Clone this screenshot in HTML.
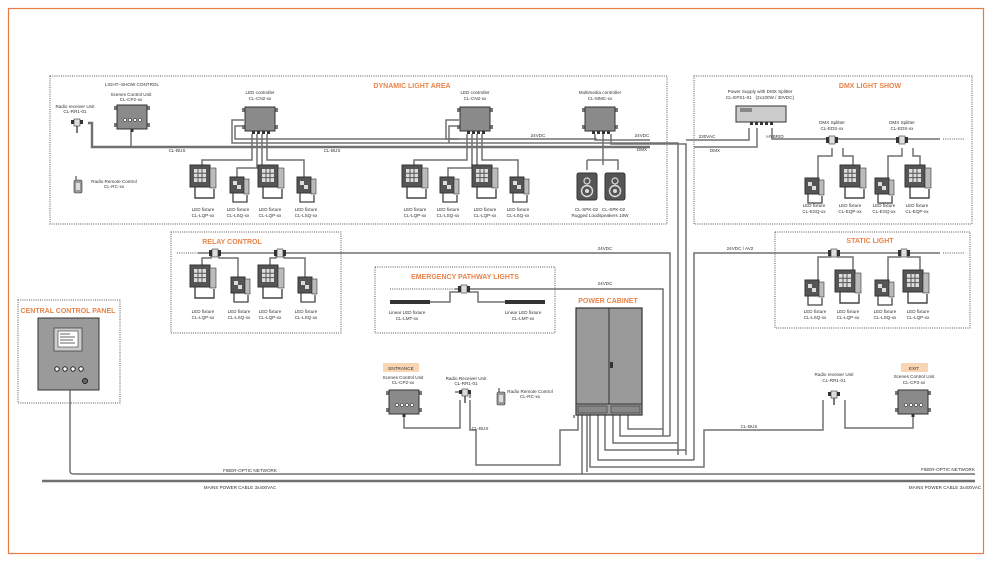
<!DOCTYPE html>
<html><head><meta charset="utf-8"><style>
html,body{margin:0;padding:0;background:#fff}
svg{display:block}
text{font-family:"Liberation Sans",sans-serif;fill:#333;font-size:4.6px}
.t{fill:#e8844a;font-weight:bold;font-size:7px}
.b{fill:none;stroke:#555;stroke-width:1;stroke-dasharray:1 1.2}
.w{fill:none;stroke:#707070;stroke-width:1.5}
.w2{fill:none;stroke:#707070;stroke-width:2.4}
</style></head><body>
<svg width="998" height="568" viewBox="0 0 998 568" xmlns="http://www.w3.org/2000/svg">
<defs>
<g id="fl">
 <path d="M5 22V33H24V24" fill="none" stroke="#444" stroke-width="1.4"/>
 <rect x="0" y="0" width="20" height="22" fill="#555" stroke="#333"/>
 <rect x="20" y="3" width="6" height="20" fill="#bbb" stroke="#333" stroke-width=".6"/>
 <rect x="4" y="4" width="12" height="13" fill="#ddd"/>
 <path d="M4 8.3H16M4 12.6H16M8 4V17M12 4V17" stroke="#555" stroke-width="1"/>
</g>
<g id="fs">
 <path d="M3 16V25H17V18" fill="none" stroke="#444" stroke-width="1.3"/>
 <rect x="0" y="0" width="14" height="16" fill="#555" stroke="#333"/>
 <rect x="14" y="2" width="5" height="15" fill="#bbb" stroke="#333" stroke-width=".6"/>
 <rect x="3" y="4" width="4" height="4" fill="#ddd"/><rect x="7" y="8" width="4" height="4" fill="#ddd"/>
</g>
<g id="ct">
 <rect x="-3" y="1" width="3" height="4" fill="#777"/><rect x="30" y="1" width="3" height="4" fill="#777"/>
 <rect x="-3" y="18" width="3" height="4" fill="#777"/><rect x="30" y="18" width="3" height="4" fill="#777"/>
 <rect x="0" y="0" width="30" height="24" fill="#8a8a8a" stroke="#333"/>
 <rect x="7" y="24" width="3" height="3" fill="#333"/><rect x="12" y="24" width="3" height="3" fill="#333"/><rect x="17" y="24" width="3" height="3" fill="#333"/><rect x="22" y="24" width="3" height="3" fill="#333"/>
</g>
<g id="sc">
 <rect x="-3" y="1" width="3" height="4" fill="#777"/><rect x="30" y="1" width="3" height="4" fill="#777"/>
 <rect x="-3" y="18" width="3" height="4" fill="#777"/><rect x="30" y="18" width="3" height="4" fill="#777"/>
 <rect x="0" y="0" width="30" height="24" fill="#8a8a8a" stroke="#333"/>
 <circle cx="8" cy="15" r="1.5" fill="#fff" stroke="#222" stroke-width=".5"/><circle cx="13" cy="15" r="1.5" fill="#fff" stroke="#222" stroke-width=".5"/><circle cx="18" cy="15" r="1.5" fill="#fff" stroke="#222" stroke-width=".5"/><circle cx="23" cy="15" r="1.5" fill="#fff" stroke="#222" stroke-width=".5"/>
 <rect x="13.5" y="24" width="3" height="3" fill="#333"/>
</g>
<g id="sp">
 <rect x="-6" y="-3" width="3" height="6" fill="#333"/><rect x="3" y="-3" width="3" height="6" fill="#333"/>
 <rect x="-3" y="-4" width="6" height="8" fill="#ddd" stroke="#333" stroke-width=".6"/>
</g>
<g id="rr">
 <rect x="-6" y="-2" width="3" height="4" fill="#333"/><rect x="3" y="-2" width="3" height="4" fill="#333"/>
 <rect x="-3" y="-3" width="6" height="7" fill="#ddd" stroke="#333" stroke-width=".6"/>
 <path d="M0 4V11" stroke="#333" stroke-width="1.3"/>
</g>
<g id="rc">
 <path d="M2 0V4" stroke="#333" stroke-width="1"/>
 <rect x="0" y="4" width="8" height="13" rx="1.5" fill="#999" stroke="#333" stroke-width=".6"/>
 <rect x="2" y="7" width="4" height="7" fill="#ddd"/>
</g>
<g id="spk">
 <rect x="0" y="0" width="20" height="27" rx="2" fill="#555" stroke="#333"/>
 <circle cx="10" cy="8" r="3" fill="none" stroke="#ddd" stroke-width="1.2"/>
 <circle cx="10" cy="18" r="5.5" fill="none" stroke="#ddd" stroke-width="1.4"/><circle cx="10" cy="18" r="2" fill="#ddd"/>
</g>
</defs>

<rect x="8.5" y="8.5" width="975" height="545" fill="none" stroke="#e87a45" stroke-width="1.2"/>

<rect class="b" x="50" y="76" width="617" height="148"/>
<rect class="b" x="694" y="76" width="278" height="148"/>
<rect class="b" x="171" y="232" width="170" height="101"/>
<rect class="b" x="375" y="267" width="180" height="66"/>
<rect class="b" x="775" y="232" width="195" height="96"/>
<rect class="b" x="18" y="300" width="102" height="103"/>

<text class="t" x="412" y="88" text-anchor="middle">DYNAMIC LIGHT AREA</text>
<text class="t" x="870" y="88" text-anchor="middle">DMX LIGHT SHOW</text>
<text class="t" x="232" y="244" text-anchor="middle">RELAY CONTROL</text>
<text class="t" x="465" y="279" text-anchor="middle">EMERGENCY PATHWAY LIGHTS</text>
<text class="t" x="870" y="243" text-anchor="middle">STATIC LIGHT</text>
<text class="t" x="68" y="313" text-anchor="middle">CENTRAL CONTROL PANEL</text>
<text class="t" x="608" y="303" text-anchor="middle">POWER CABINET</text>

<path class="w2" d="M88 123H92V147H650"/>
<path class="w" d="M131 131V147"/>
<path class="w" d="M244 120H232V143H678V455"/>
<path class="w" d="M244 126H235V139H459"/>
<path class="w" d="M459 120H446V139H597"/>
<path class="w" d="M459 126H449V143"/>
<path class="w" d="M595 134V140H650"/>
<path class="w" d="M611 134V144H686V455"/>
<path class="w" d="M603 134V165"/>
<path class="w" d="M587 160H618V170M587 160V170"/>
<path class="w" d="M252 134V160H202V165M257 134V168H237V177M262 134V168H268V165M267 134V160H304V177"/>
<path class="w" d="M467 134V160H414V165M472 134V168H448V177M477 134V168H484V165M482 134V160H518V177"/>

<use href="#sc" x="117" y="105"/>
<use href="#ct" x="245" y="107"/>
<use href="#ct" x="460" y="107"/>
<use href="#ct" x="585" y="107"/>
<use href="#rr" x="77" y="122"/>
<use href="#rc" x="74" y="176"/>
<use href="#spk" x="577" y="173"/><use href="#spk" x="605" y="173"/>

<use href="#fl" x="190" y="165"/><use href="#fs" x="230" y="177"/><use href="#fl" x="258" y="165"/><use href="#fs" x="297" y="177"/>
<use href="#fl" x="402" y="165"/><use href="#fs" x="440" y="177"/><use href="#fl" x="472" y="165"/><use href="#fs" x="510" y="177"/>

<text x="132" y="86" text-anchor="middle" font-size="5.2">LIGHT–SHOW CONTROL</text>
<text x="131" y="96" text-anchor="middle">Scenes Control Unit</text><text x="131" y="101" text-anchor="middle">CL-CP2-xx</text>
<text x="75" y="108" text-anchor="middle">Radio receiver Unit</text><text x="75" y="113" text-anchor="middle">CL-RR1-01</text>
<text x="260" y="94" text-anchor="middle">LED controller</text><text x="260" y="100" text-anchor="middle">CL-CN2-xx</text>
<text x="475" y="94" text-anchor="middle">LED controller</text><text x="475" y="100" text-anchor="middle">CL-CN2-xx</text>
<text x="600" y="94" text-anchor="middle">Multimedia controller</text><text x="600" y="100" text-anchor="middle">CL-MMC-xx</text>
<text x="114" y="183" text-anchor="middle">Radio Remote Control</text><text x="114" y="188" text-anchor="middle">CL-RC-xx</text>
<text x="177" y="152" text-anchor="middle">CL-BUS</text><text x="332" y="152" text-anchor="middle">CL-BUS</text>
<text x="538" y="137" text-anchor="middle">24VDC</text><text x="642" y="137" text-anchor="middle">24VDC</text><text x="642" y="151" text-anchor="middle">DMX</text>
<g text-anchor="middle">
<text x="203" y="211">LED fixture</text><text x="203" y="217">CL-LQP-xx</text>
<text x="238" y="211">LED fixture</text><text x="238" y="217">CL-LSQ-xx</text>
<text x="270" y="211">LED fixture</text><text x="270" y="217">CL-LQP-xx</text>
<text x="306" y="211">LED fixture</text><text x="306" y="217">CL-LSQ-xx</text>
<text x="415" y="211">LED fixture</text><text x="415" y="217">CL-LQP-xx</text>
<text x="448" y="211">LED fixture</text><text x="448" y="217">CL-LSQ-xx</text>
<text x="485" y="211">LED fixture</text><text x="485" y="217">CL-LQP-xx</text>
<text x="518" y="211">LED fixture</text><text x="518" y="217">CL-LSQ-xx</text>
<text x="600" y="211">CL-SPK-02 &#160; CL-SPK-02</text><text x="600" y="217">Rugged Loudspeakers 10W</text>
</g>

<path class="w" d="M686 140H749V128"/>
<path class="w" d="M694 147H757V128"/>
<path class="w" d="M772 128V139H940"/>
<path class="b" d="M943 139H965" stroke-dasharray="3 2" stroke-width="1.2"/>
<path class="w" d="M832 148V156H818V178M843 148V156H853V165M902 148V156H888V178M913 148V156H920V165"/>
<rect x="736" y="106" width="50" height="16" fill="#ccc" stroke="#333"/>
<rect x="740" y="108" width="12" height="4" fill="#888"/>
<path d="M750 122h3v3h-3zM755 122h3v3h-3zM760 122h3v3h-3zM765 122h3v3h-3zM770 122h3v3h-3z" fill="#333"/>
<use href="#sp" x="832" y="140"/><use href="#sp" x="902" y="140"/>
<use href="#fs" x="805" y="178"/><use href="#fl" x="840" y="165"/><use href="#fs" x="875" y="178"/><use href="#fl" x="905" y="165"/>
<g text-anchor="middle">
<text x="760" y="93">Power Supply with DMX Splitter</text><text x="760" y="99">CL-EPS1-01 &#160; (2x100W / 30VDC)</text>
<text x="832" y="124">DMX Splitter</text><text x="832" y="130">CL-EDS-xx</text>
<text x="902" y="124">DMX Splitter</text><text x="902" y="130">CL-EDS-xx</text>
<text x="707" y="138">230VAC</text><text x="775" y="138">HYBRID</text><text x="715" y="152">DMX</text>
<text x="814" y="207">LED fixture</text><text x="814" y="213">CL-ESQ-xx</text>
<text x="850" y="207">LED fixture</text><text x="850" y="213">CL-EQP-xx</text>
<text x="884" y="207">LED fixture</text><text x="884" y="213">CL-ESQ-xx</text>
<text x="917" y="207">LED fixture</text><text x="917" y="213">CL-EQP-xx</text>
</g>

<path class="b" d="M177 253H198" stroke-dasharray="3 2" stroke-width="1.2"/>
<path class="w" d="M198 253H670V436"/>
<path class="w" d="M211 253V258H202V265M219 253V258H238V277M276 253V258H270V265M284 253V258H305V277"/>
<use href="#sp" x="215" y="253"/><use href="#sp" x="280" y="253"/>
<use href="#fl" x="190" y="265"/><use href="#fs" x="231" y="277"/><use href="#fl" x="258" y="265"/><use href="#fs" x="298" y="277"/>
<text x="605" y="250" text-anchor="middle">24VDC</text>
<g text-anchor="middle">
<text x="203" y="313">LED fixture</text><text x="203" y="319">CL-LQP-xx</text>
<text x="239" y="313">LED fixture</text><text x="239" y="319">CL-LSQ-xx</text>
<text x="270" y="313">LED fixture</text><text x="270" y="319">CL-LQP-xx</text>
<text x="306" y="313">LED fixture</text><text x="306" y="319">CL-LSQ-xx</text>
</g>

<path class="b" d="M390 289H455" stroke-dasharray="2 1" stroke-width="1.2"/>
<path class="w" d="M455 289H663V436"/>
<path class="w" d="M430 302H450V292H460M468 292H478V302H505"/>
<use href="#sp" x="464" y="289"/>
<rect x="390" y="300" width="40" height="4" fill="#333"/><rect x="505" y="300" width="40" height="4" fill="#333"/>
<text x="605" y="285" text-anchor="middle">24VDC</text>
<g text-anchor="middle"><text x="407" y="314">Linear LED fixture</text><text x="407" y="320">CL-LMT-xx</text>
<text x="523" y="314">Linear LED fixture</text><text x="523" y="320">CL-LMT-xx</text></g>

<path class="w" d="M694 460V253H940"/>
<path class="b" d="M943 253H965" stroke-dasharray="3 2" stroke-width="1.2"/>
<path class="w" d="M830 253V257H818V280M838 253V257H853V270M900 253V257H888V280M908 253V257H920V270"/>
<use href="#sp" x="834" y="253"/><use href="#sp" x="904" y="253"/>
<use href="#fs" x="805" y="280"/><use href="#fl" x="835" y="270"/><use href="#fs" x="875" y="280"/><use href="#fl" x="903" y="270"/>
<text x="740" y="250" text-anchor="middle">24VDC / AV2</text>
<g text-anchor="middle">
<text x="815" y="313">LED fixture</text><text x="815" y="319">CL-LSQ-xx</text>
<text x="848" y="313">LED fixture</text><text x="848" y="319">CL-LQP-xx</text>
<text x="885" y="313">LED fixture</text><text x="885" y="319">CL-LSQ-xx</text>
<text x="918" y="313">LED fixture</text><text x="918" y="319">CL-LQP-xx</text>
</g>

<path class="w" d="M628 415V429H663M620 415V436H670M613 415V443H678M605 415V450H686M598 415V460H694M590 415V467H704V430H823V400"/>
<path class="w" d="M582 415V474"/><path class="w" d="M574 415V418"/>
<path class="w" d="M587 415V472"/>
<path class="w" d="M578 415V430H560V465H476V430H470V400"/>
<path class="w" d="M404 416V428H460V400"/>
<path class="w" d="M845 400V428H913V417"/>

<rect x="576" y="308" width="66" height="107" fill="#9a9a9a" stroke="#333" stroke-width="1.2"/>
<path d="M609 308V404M576 404H642" stroke="#333" stroke-width="1"/>
<rect x="578" y="406" width="29" height="7" fill="#888" stroke="#333" stroke-width=".6"/><rect x="611" y="406" width="29" height="7" fill="#888" stroke="#333" stroke-width=".6"/>
<rect x="610" y="362" width="3" height="6" fill="#333"/>

<rect x="383" y="363" width="36" height="9" fill="#f9d5b4"/><text x="401" y="370" text-anchor="middle" font-size="5.5">ENTRANCE</text>
<rect x="901" y="363" width="27" height="9" fill="#f9d5b4"/><text x="914" y="370" text-anchor="middle" font-size="5.5">EXIT</text>
<use href="#sc" x="389" y="390"/><use href="#sc" x="898" y="390"/>
<path class="w" d="M466 392H470V398M455 392H460"/>
<use href="#rr" x="465" y="392"/><use href="#rr" x="834" y="394"/>
<use href="#rc" x="497" y="388"/>
<g text-anchor="middle">
<text x="403" y="379">Scenes Control Unit</text><text x="403" y="384">CL-CP2-xx</text>
<text x="466" y="380">Radio Receiver Unit</text><text x="466" y="385">CL-RR1-01</text>
<text x="530" y="393">Radio Remote Control</text><text x="530" y="398">CL-RC-xx</text>
<text x="480" y="430">CL-BUS</text><text x="749" y="428">CL-BUS</text>
<text x="834" y="376">Radio receiver Unit</text><text x="834" y="382">CL-RR1-01</text>
<text x="914" y="378">Scenes Control Unit</text><text x="914" y="384">CL-CP3-xx</text>
</g>

<rect x="38" y="318" width="61" height="72" fill="#9a9a9a" stroke="#333"/>
<rect x="54" y="328" width="28" height="23" fill="#ccc" stroke="#333" stroke-width=".7"/>
<rect x="58" y="331" width="20" height="16" fill="#fff" stroke="#333" stroke-width=".6"/>
<path d="M60 334h10M60 337h15M60 340h13M60 343h15" stroke="#333" stroke-width=".8"/>
<circle cx="57" cy="369" r="2.2" fill="#fff" stroke="#222"/><circle cx="65" cy="369" r="2.2" fill="#fff" stroke="#222"/><circle cx="73" cy="369" r="2.2" fill="#fff" stroke="#222"/><circle cx="81" cy="369" r="2.2" fill="#fff" stroke="#222"/>
<circle cx="85" cy="381" r="2.5" fill="#666" stroke="#222"/>

<path class="w" d="M70 390V471Q70 474 74 474H975"/>
<path d="M42 481H975" stroke="#707070" stroke-width="2.6"/>
<text x="250" y="472" text-anchor="middle">FIBER-OPTIC NETWORK</text>
<text x="948" y="471" text-anchor="middle">FIBER-OPTIC NETWORK</text>
<text x="240" y="489" text-anchor="middle">MAINS POWER CABLE 3x400VAC</text>
<text x="945" y="489" text-anchor="middle">MAINS POWER CABLE 3x400VAC</text>
</svg>
</body></html>
